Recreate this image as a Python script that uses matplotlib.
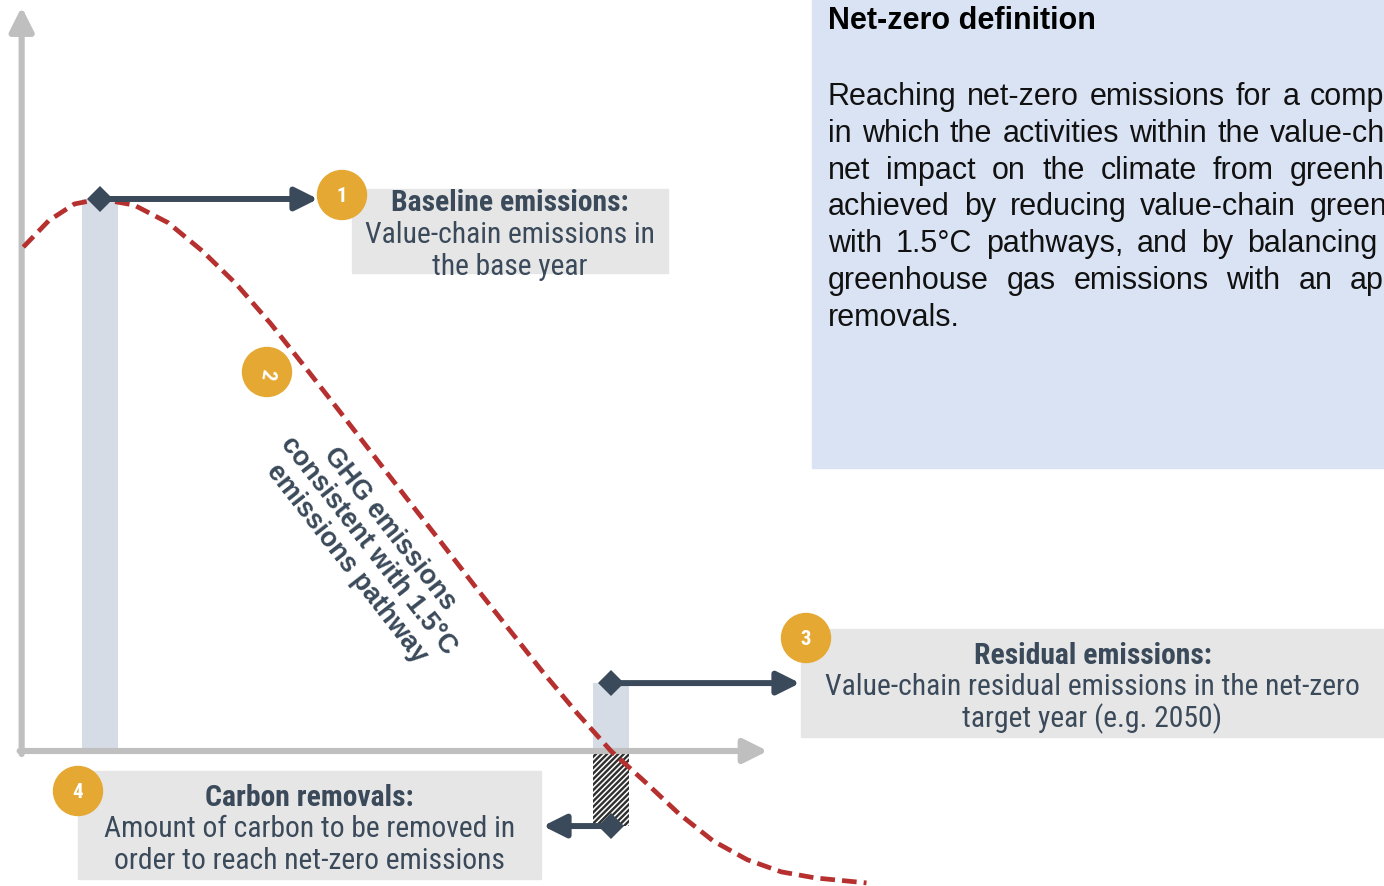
import matplotlib.pyplot as plt
from matplotlib.patches import Rectangle, Circle
from matplotlib import font_manager as fm

# emissions pathway (index, base year = 100)
years = [2015.5, 2017, 2018.5, 2020, 2022, 2024, 2026, 2028, 2030, 2032, 2034, 2036, 2038,
         2040, 2042, 2044, 2046, 2048, 2050, 2052, 2054, 2056, 2058, 2060, 2062, 2065]
pathway = [91.3, 96.1, 99.1, 100, 98.9, 95.7, 90.6, 84.6, 77.5, 69.7, 61.8, 53.8, 45.8,
           37.9, 29.9, 22.1, 14.3, 6.9, 0, -5.6, -11.4, -16.3, -19.7, -21.9, -23.0, -23.9]
base_year = 2020
target_year = 2050
baseline = 100
residual = 12.3
removals = -13.6
axis_x = (2015.4, 2059.2)
axis_y_top = 134.8

box1 = ['Baseline emissions:', 'Value-chain emissions in', 'the base year']
box3 = ['Residual emissions:', 'Value-chain residual emissions in the net-zero',
        'target year (e.g. 2050)']
box4 = ['Carbon removals:', 'Amount of carbon to be removed in',
        'order to reach net-zero emissions']
pathway_label = 'GHG emissions\nconsistent with 1.5°C\nemissions pathway'
nz_title = 'Net-zero definition'
nz_lines = [
    ('Reaching net-zero emissions for a company', 1310),
    ('in which the activities within the value-chain', 1270),
    ('net impact on the climate from greenhouse', 1290),
    ('achieved by reducing value-chain greenhouse', 1310),
    ('with 1.5°C pathways, and by balancing', 1247),
    ('greenhouse gas emissions with an appropriate', 1350),
    ('removals.', None),
]

names = {f.name for f in fm.fontManager.ttflist}
narrow_opts = ['Liberation Sans Narrow', 'Roboto Condensed', 'Archivo Narrow']
NARROW = next((n for n in narrow_opts if n in names), None)
plt.rcParams['font.family'] = ['Liberation Sans', 'DejaVu Sans']

SLATE = '#3B4A5A'
GOLD = '#E5A832'
GREY = '#BFBFBF'
BOXGREY = '#E6E6E6'
BARBLUE = '#D6DCE5'
RED = '#B5302E'

X0, SX = 2014.129, 17.033   # year at left edge, pixels per year


def px2year(p):
    return X0 + p / SX


fig = plt.figure(figsize=(13.84, 8.87), dpi=100)
ax = fig.add_axes([0, 0, 1, 1])
ax.set_xlim(X0, X0 + 1384 / SX)
ax.set_ylim(-24.46, 136.23)
ax.axis('off')

lay = fig.add_axes([0, 0, 1, 1])
lay.set_xlim(0, 1384)
lay.set_ylim(887, 0)
lay.axis('off')

bw = 2.15
ax.bar(base_year, baseline, width=bw, color=BARBLUE, zorder=1)
ax.bar(target_year, residual, width=bw, color=BARBLUE, zorder=1)
plt.rcParams['hatch.linewidth'] = 1.7
ax.bar(target_year, removals + 0.6, width=bw, bottom=-0.6, color='white',
       edgecolor='#2f2f2f', hatch='//////', linewidth=0, zorder=1)

# axes arrows
grey_kw = dict(arrowstyle='-|>,head_length=0.66,head_width=0.33', color=GREY, lw=4.4,
               shrinkA=0, shrinkB=0, mutation_scale=22)
ax.annotate('', xy=(axis_x[0], axis_y_top), xytext=(axis_x[0], -0.55), arrowprops=grey_kw,
            zorder=2)
ax.annotate('', xy=(axis_x[1], 0), xytext=(axis_x[0] - 0.12, 0), arrowprops=grey_kw, zorder=2)

ax.plot(years, pathway, color=RED, lw=3.4, ls=(0, (3.1, 1.5)), zorder=3)

# callout arrows
dark_kw = dict(arrowstyle='-|>,head_length=0.62,head_width=0.31', color=SLATE, lw=4.3,
               shrinkA=0, shrinkB=0, mutation_scale=22)
for (x, y), tip in [((base_year, baseline), 318), ((target_year, residual), 800),
                    ((target_year, removals), 543)]:
    ax.annotate('', xy=(px2year(tip), y), xytext=(x, y), arrowprops=dark_kw, zorder=4)
    ax.plot(x, y, marker='D', ms=13, color=SLATE, mew=0, zorder=5)

# text boxes
if NARROW:
    box_fam, box_fs = [NARROW, 'Liberation Sans'], 21.3
else:
    box_fam, box_fs = ['Liberation Sans'], 18.9


def box(x0, y0, x1, y1, lines, ys, color=BOXGREY):
    lay.add_patch(Rectangle((x0, y0), x1 - x0, y1 - y0, color=color, zorder=1))
    cx = (x0 + x1) / 2
    for i, (s, y) in enumerate(zip(lines, ys)):
        lay.text(cx, y, s, ha='center', va='center', family=box_fam,
                 fontsize=box_fs, color=SLATE, fontweight='bold' if i == 0 else 'normal',
                 zorder=3)


box(352, 190, 668, 274, box1, [203, 235, 267])
box(801, 630, 1384, 738, box3, [656, 687, 719])
box(78, 772, 541, 880, box4, [798, 829, 861])


def badge(x, y, s, rot=0):
    lay.add_patch(Circle((x, y), 24.5, color=GOLD, zorder=4))
    lay.text(x, y + 1, s, ha='center', va='center', color='white', fontsize=15,
             fontweight='bold', family=box_fam, rotation=rot, zorder=5)


badge(342, 196, '1')
badge(267, 373, '2', rot=-100)
badge(806, 639, '3')
badge(78, 792, '4')

lay.text(368, 546, pathway_label, rotation=-52, rotation_mode='anchor', ha='center',
         va='center', multialignment='center', fontsize=19.3, fontweight='bold',
         color=SLATE, linespacing=1.08, zorder=3)

# net-zero definition panel
lay.add_patch(Rectangle((812, 0), 1384 - 812, 469, color='#DAE3F3', zorder=1))
lay.text(828, 21, nz_title, ha='left', va='center', fontsize=22, fontweight='bold',
         color='black', zorder=3)

fig.canvas.draw()
r = fig.canvas.get_renderer()
for i, (line, x_last) in enumerate(nz_lines):
    y = 97 + i * 36.8
    words = line.split(' ')
    if x_last is None:
        lay.text(828, y, line, ha='left', va='center', fontsize=22, color='#111111', zorder=3)
        continue
    widths = []
    for w in words:
        t = lay.text(0, 0, w, fontsize=22)
        widths.append(t.get_window_extent(r).width)
        t.remove()
    # justified line: spread words so the last one starts where the panel shows it
    gap = (x_last - 828 - sum(widths[:-1])) / (len(words) - 1)
    x = 828
    for w, wd in zip(words, widths):
        lay.text(x, y, w, ha='left', va='center', fontsize=22, color='#111111',
                 clip_on=True, zorder=3)
        x += wd + gap

fig.savefig('out.png', dpi=100)
